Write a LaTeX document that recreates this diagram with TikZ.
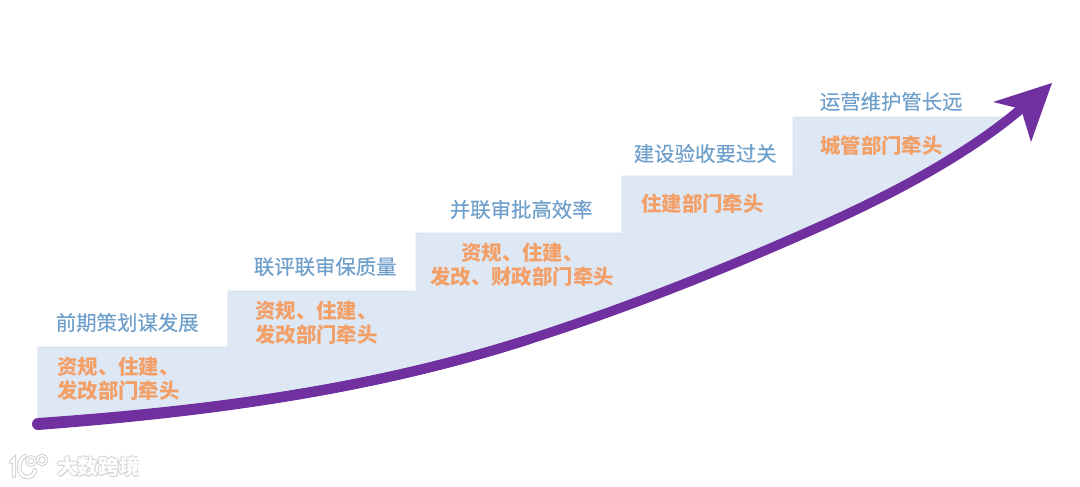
\documentclass[tikz,border=0pt]{standalone}
\usepackage{fontspec}
\setmainfont{Noto Sans CJK SC}
\newfontfamily\titlefont[FakeBold=0.25]{Noto Sans CJK SC}
\usetikzlibrary{positioning}
\definecolor{stairfill}{HTML}{DEE8F4}
\definecolor{stairline}{HTML}{D8DEE6}
\definecolor{arrowpurple}{HTML}{7030A0}
\definecolor{titleblue}{HTML}{6F9FCB}
\definecolor{leadorange}{HTML}{F3A068}
\definecolor{markgrey}{HTML}{D2D2D2}
\tikzset{
  title/.style={anchor=west,inner sep=0pt,text=titleblue,font=\fontsize{20.4}{24}\selectfont\titlefont},
  lead/.style={anchor=west,inner sep=0pt,text=leadorange,align=left,font=\fontsize{20.4}{24}\selectfont\bfseries},
  marktext/.style={anchor=west,inner sep=0pt,font=\fontsize{20.6}{24}\selectfont\bfseries},
  logohalo/.style={markgrey,line width=4.4pt,line cap=round},
  logoline/.style={white,line width=2.4pt,line cap=round}
}
\begin{document}
\begin{tikzpicture}[x=1pt,y=-1pt]
  \useasboundingbox (0,0) rectangle (1080,487);
  \coordinate (curvestart) at (38,424);
  \coordinate (curvemid) at (530,339);
  \coordinate (curveup) at (830,222);
  \coordinate (curveend) at (1022,108);
  \coordinate (tip) at (1052,83);
  \coordinate (barbl) at (993,102);
  \coordinate (barbr) at (1031,142);
  % stairs
  \draw[stairline,fill=stairfill,line width=0.8pt] (curvestart) -- (38,347) -- (228,347) -- (228,291) -- (416,291) -- (416,233)
     -- (622,233) -- (622,176) -- (793,176) -- (793,117) -- (1006,117) -- (1006,120)
     -- (925,174) -- (curveup) -- (680,285) -- (curvemid) -- (406,373) -- (283,397) -- (160,413) -- cycle;
  % arrow
  \draw[arrowpurple,line width=9.6pt,line cap=round] (curvestart) .. controls (200,412) and (365,392) .. (curvemid)
     .. controls (630,307) and (730,267) .. (curveup)
     .. controls (885,197) and (965,157) .. (curveend);
  \fill[arrowpurple] (38,418) .. controls (200,406.5) and (364,387) .. (528.5,334.4) -- (531.5,343.6)
     .. controls (366,397) and (200,417.5) .. (38,430) arc (90:270:6);
  \fill[arrowpurple] (tip) -- (barbl) -- (1021,109) -- (barbr) -- cycle;
  % titles
  \node[title] (title1) at (55.6,322.5) {前期策划谋发展};
  \node[title] (title2) at (253.6,266.5) {联评联审保质量};
  \node[title] (title3) at (449.6,209.5) {并联审批高效率};
  \node[title] (title4) at (633.6,153.5) {建设验收要过关};
  \node[title] (title5) at (819.6,101.5) {运营维护管长远};
  % leads
  \node[lead] (lead1) at (57,379) {资规、住建、\\发改部门牵头};
  \node[lead] (lead2) at (255,323) {资规、住建、\\发改部门牵头};
  \node[lead] (lead3) at (430,265) {\hspace*{31pt}资规、住建、\\发改、财政部门牵头};
  \node[lead] (lead4) at (641,203.5) {住建部门牵头};
  \node[lead] (lead5) at (820,146) {城管部门牵头};
  % watermark
  \foreach \dx/\dy in {-1/0,1/0,0/-1,0/1,1/1}
    \node[marktext,text=markgrey] at (57+\dx,467+\dy) {大数跨境};
  \node[marktext,text=white] (marklabel) at (57,467) {大数跨境};
  \foreach \style in {logohalo,logoline}{
    \draw[\style] (11,462) -- (14,459) -- (14,476);
    \draw[\style] (25,456) .. controls (17,460) and (17,477) .. (27,477) .. controls (31,477) and (34,475) .. (35,470);
    \draw[\style,line width=\pgflinewidth-1pt] (31,461) circle (4.2) (42,460) circle (4.6);
  }
\end{tikzpicture}
\end{document}
